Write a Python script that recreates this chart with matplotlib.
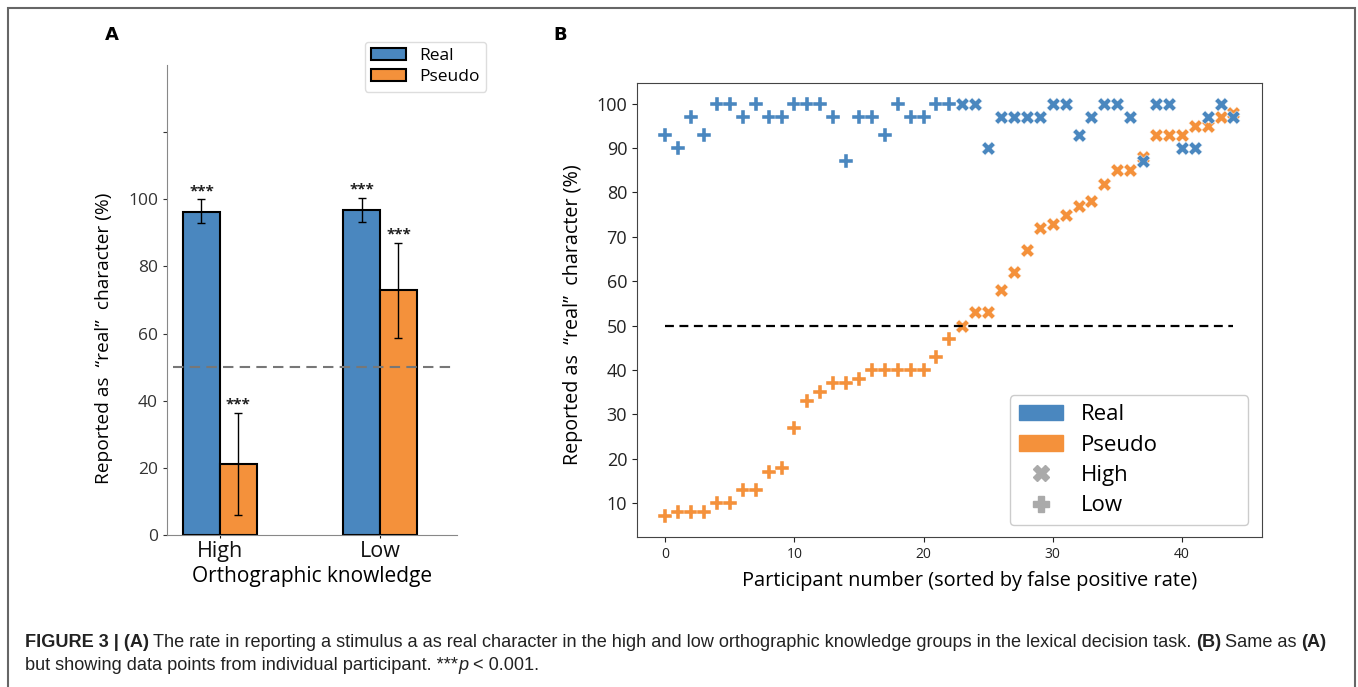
import matplotlib
matplotlib.use('Agg')
import matplotlib.pyplot as plt
from matplotlib.patches import Patch, Rectangle
from matplotlib.lines import Line2D
import numpy as np

plt.rcParams['font.family'] = ['Open Sans', 'DejaVu Sans']

# panel A: group means and error bar limits
groups = ['High', 'Low']
real_mean = [96.3, 96.8]
pseudo_mean = [21.0, 72.9]
real_err_lo = [92.8, 93.2]
real_err_hi = [100.0, 100.4]
pseudo_err_lo = [5.8, 58.7]
pseudo_err_hi = [36.4, 87.0]

# panel B: per participant, sorted by false positive rate
participant = list(range(45))
n_low = 23  # participants 0..22 low knowledge, 23..44 high
real_pct = [93, 90, 97, 93, 100, 100, 97, 100, 97, 97, 100, 100, 100, 97, 87,
            97, 97, 93, 100, 97, 97, 100, 100,
            100, 100, 90, 97, 97, 97, 97, 100, 100, 93, 97, 100, 100, 97, 87,
            100, 100, 90, 90, 97, 100, 97]
pseudo_pct = [7, 8, 8, 8, 10, 10, 13, 13, 17, 18, 27, 33, 35, 37, 37,
              38, 40, 40, 40, 40, 40, 43, 47,
              50, 53, 53, 58, 62, 67, 72, 73, 75, 77, 78, 82, 85, 85, 88,
              93, 93, 93, 95, 95, 97, 98]

blue = '#4a87bf'
orange = '#f4913b'

fig = plt.figure(figsize=(13.58, 6.87), dpi=100)

# outer frame
fig.add_artist(Rectangle((8/1358, -0.01), 1347/1358, 1.01 - 8/687, transform=fig.transFigure,
                         fill=False, edgecolor='#666666', lw=1.5))

# ---------- panel A
ax1 = fig.add_axes([0.123, 0.2213, 0.2135, 0.684])
x = np.arange(len(groups))
w = 0.23
ax1.bar(x - w/2, real_mean, w, color=blue, edgecolor='black', lw=1.5, label='Real')
ax1.bar(x + w/2, pseudo_mean, w, color=orange, edgecolor='black', lw=1.5, label='Pseudo')
for xs, m, lo, hi in [(x - w/2, real_mean, real_err_lo, real_err_hi),
                      (x + w/2, pseudo_mean, pseudo_err_lo, pseudo_err_hi)]:
    m = np.array(m)
    yerr = [m - np.array(lo), np.array(hi) - m]
    ax1.errorbar(xs, m, yerr=yerr, fmt='none', ecolor='black', elinewidth=1, capsize=3)
    for xi, h in zip(xs, hi):
        ax1.text(xi, h + 0.3, '***', ha='center', va='bottom', fontsize=11,
                 fontweight='bold', color='#222222')

ax1.axhline(50, xmin=0.02, xmax=0.98, color='#777777', ls=(0, (5, 3)), lw=1.5)
ax1.set_xlim(-0.33, 1.48)
ax1.set_ylim(0, 140)
ax1.set_yticks([0, 20, 40, 60, 80, 100, 120])
ax1.set_yticklabels(['0', '20', '40', '60', '80', '100', ''])
ax1.set_xticks(x)
ax1.set_xticklabels(groups, fontsize=15.5)
ax1.tick_params(axis='y', labelsize=12.5, colors='#333333', length=3, width=0.8)
ax1.tick_params(axis='x', length=2, pad=2, colors='#111111')
for s in ['top', 'right']:
    ax1.spines[s].set_visible(False)
for s in ['left', 'bottom']:
    ax1.spines[s].set_color('#888888')
ax1.set_xlabel('Orthographic knowledge', fontsize=15, labelpad=3)
ax1.set_ylabel('Reported as  \u201creal\u201d  character (%)', fontsize=13.8)
ax1.yaxis.set_label_coords(-0.186, 0.419)
fig.legend(loc='upper right', bbox_to_anchor=(0.358, 0.939), borderaxespad=0, fontsize=12.5,
           handlelength=2, framealpha=1, edgecolor='#dddddd', borderpad=0.35,
           labelspacing=0.3)

# ---------- panel B
ax2 = fig.add_axes([0.469, 0.2183, 0.4602, 0.6608])
px = np.array(participant)
mk = dict(s=95, edgecolor='white', lw=0.3)
ax2.scatter(px[:n_low], pseudo_pct[:n_low], marker='P', color=orange, **mk)
ax2.scatter(px[n_low:], pseudo_pct[n_low:], marker='X', color=orange, **mk)
ax2.scatter(px[:n_low], real_pct[:n_low], marker='P', color=blue, **mk)
ax2.scatter(px[n_low:], real_pct[n_low:], marker='X', color=blue, **mk)
ax2.plot([px[0], px[-1]], [50, 50], color='black', ls=(0, (4, 2.5)), lw=1.6)
ax2.set_yticks(range(10, 101, 10))
ax2.set_xticks(range(0, 41, 10))
ax2.tick_params(axis='y', labelsize=13, colors='#222222')
ax2.tick_params(axis='x', labelsize=10, colors='#222222')
for s in ax2.spines.values():
    s.set_color('#444444')
ax2.set_xlabel('Participant number (sorted by false positive rate)', fontsize=14.4)
ax2.xaxis.set_label_coords(0.533, -0.075)
ax2.set_ylabel('Reported as  \u201creal\u201d  character (%)', fontsize=14.2)
ax2.yaxis.set_label_coords(-0.086, 0.49)
handles = [Patch(color=blue, label='Real'), Patch(color=orange, label='Pseudo'),
           Line2D([], [], marker='X', ls='none', color='#aaaaaa', markersize=11, label='High'),
           Line2D([], [], marker='P', ls='none', color='#aaaaaa', markersize=11, label='Low')]
ax2.legend(handles=handles, loc='lower left', bbox_to_anchor=(0.597, 0.026, 0.381, 0.28),
           mode='expand', borderaxespad=0, fontsize=16, handlelength=2.0, handletextpad=0.8,
           labelspacing=0.42, borderpad=0.4, framealpha=1, edgecolor='#cccccc')

# panel letters
fig.text(105/1358, 1 - 35/687, 'A', fontsize=13, fontweight='bold', family='DejaVu Sans', va='center')
fig.text(553/1358, 1 - 35/687, 'B', fontsize=13, fontweight='bold', family='DejaVu Sans', va='center')

# caption
cap_font = ['Liberation Sans Narrow', 'Liberation Sans', 'DejaVu Sans']


def caption_line(parts, x0, y0):
    prev = None
    for txt, weight, style, gap in parts:
        if prev is None:
            prev = fig.text(x0, y0, txt, fontsize=13.1, fontweight=weight, style=style,
                            family=cap_font, color='#222222', va='bottom')
        else:
            prev = fig.add_artist(matplotlib.text.Annotation(
                txt, xy=(1, 0), xycoords=prev, xytext=(gap, 0), textcoords='offset points',
                fontsize=13.1, fontweight=weight, style=style, family=cap_font,
                color='#222222', va='bottom'))


caption_line([('FIGURE 3 | (A)', 'bold', 'normal', 0),
              ('The rate in reporting a stimulus a as real character in the high and low '
               'orthographic knowledge groups in the lexical decision task.', 'normal', 'normal', 3),
              ('(B)', 'bold', 'normal', 3), ('Same as', 'normal', 'normal', 3),
              ('(A)', 'bold', 'normal', 3)],
             25/1358, 1 - 651/687)
caption_line([('but showing data points from individual participant. ***', 'normal', 'normal', 0),
              ('p', 'normal', 'italic', 0.5), ('< 0.001.', 'normal', 'normal', 3)],
             25/1358, 1 - 674/687)

fig.savefig('out.png', dpi=100)
